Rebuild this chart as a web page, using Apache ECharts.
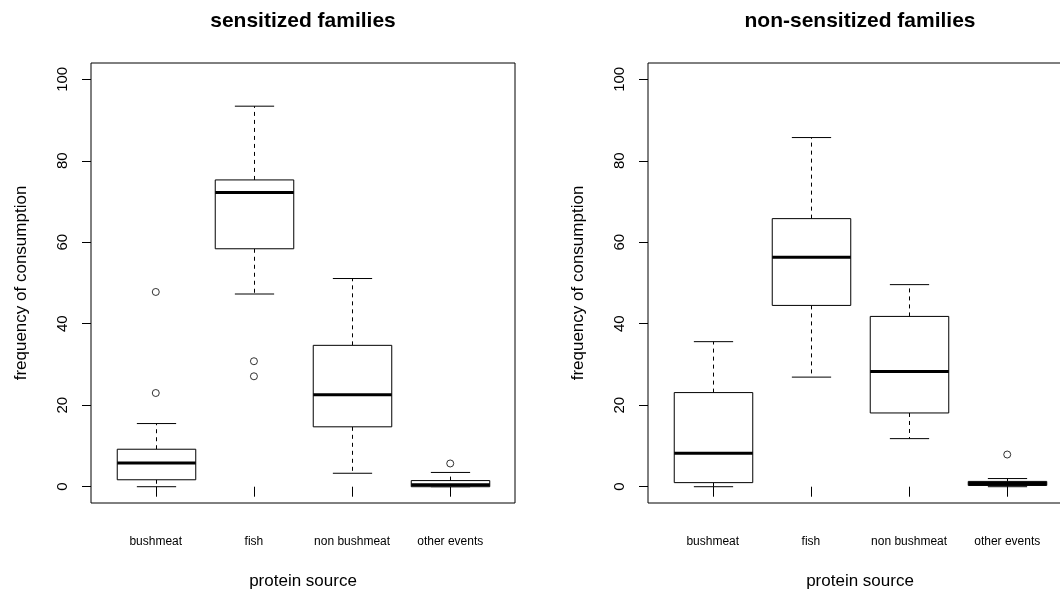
<!DOCTYPE html>
<html><head><meta charset="utf-8">
<script src="https://cdn.jsdelivr.net/npm/echarts@6/dist/echarts.min.js"></script>
<style>html,body{margin:0;padding:0;background:#fff}#c{width:1060px;height:590px}</style>
</head><body><div id="c"></div>
<script>
var categories = ['bushmeat', 'fish', 'non bushmeat', 'other events'];
var yTicks = [0, 20, 40, 60, 80, 100];
var panelTitles = ['sensitized families', 'non-sensitized families'];
// each row: [lower whisker, Q1, median, Q3, upper whisker]
var sensitizedStats = [
  [0, 1.7, 5.8, 9.2, 15.5],
  [47.3, 58.4, 72.2, 75.3, 93.4],
  [3.3, 14.7, 22.6, 34.7, 51.1],
  [0, 0, 0.5, 1.5, 3.5]
];
var sensitizedOutliers = [[47.8, 23.0], [30.8, 27.1], [], [5.7]];
var nonSensitizedStats = [
  [0, 1.0, 8.2, 23.1, 35.6],
  [26.9, 44.5, 56.3, 65.8, 85.7],
  [11.8, 18.1, 28.3, 41.8, 49.6],
  [0, 0.3, 0.8, 1.3, 2.0]
];
var nonSensitizedOutliers = [[], [], [], [7.9]];

var FONT = 'Liberation Sans, Arial, sans-serif';
var panelLefts = [91, 648];
var allStats = [sensitizedStats, nonSensitizedStats];
var allOutliers = [sensitizedOutliers, nonSensitizedOutliers];

function renderBox(params, api) {
  var x = api.value(0);
  var lo = api.coord([x, api.value(1)]);
  var q1 = api.coord([x, api.value(2)]);
  var md = api.coord([x, api.value(3)]);
  var q3 = api.coord([x, api.value(4)]);
  var hi = api.coord([x, api.value(5)]);
  var w = api.size([0.8, 0])[0];
  var h = w / 2, c = w / 4, cx = Math.round(lo[0]) + 0.5;
  var solid = { stroke: '#000', lineWidth: 1, fill: null };
  var dashed = { stroke: '#000', lineWidth: 1, lineDash: [4, 4], fill: null };
  return {
    type: 'group',
    children: [
      { type: 'line', shape: { x1: cx, y1: q3[1], x2: cx, y2: hi[1] }, style: dashed },
      { type: 'line', shape: { x1: cx, y1: q1[1], x2: cx, y2: lo[1] }, style: dashed },
      { type: 'line', shape: { x1: cx - c, y1: hi[1], x2: cx + c, y2: hi[1] }, style: solid },
      { type: 'line', shape: { x1: cx - c, y1: lo[1], x2: cx + c, y2: lo[1] }, style: solid },
      { type: 'rect', shape: { x: cx - h, y: q3[1], width: w, height: q1[1] - q3[1] }, style: { stroke: '#000', lineWidth: 1, fill: '#fff' } },
      { type: 'line', shape: { x1: cx - h, y1: md[1], x2: cx + h, y2: md[1] }, style: { stroke: '#000', lineWidth: 3 } }
    ]
  };
}

var grids = [], xAxes = [], yAxes = [], series = [], graphics = [];
for (var p = 0; p < 2; p++) {
  grids.push({ left: panelLefts[p], top: 63, width: 424, height: 440, show: true, borderColor: '#000', borderWidth: 1, backgroundColor: 'transparent', containLabel: false, outerBoundsMode: 'none' });
  xAxes.push({
    gridIndex: p, type: 'value', min: 0.34, max: 4.66,
    axisLine: { show: false }, splitLine: { show: false },
    axisTick: { show: true, customValues: [1, 2, 3, 4], length: 10, lineStyle: { color: '#000' } },
    axisLabel: { customValues: [1, 2, 3, 4], formatter: function (v) { return categories[Math.round(v) - 1] || ''; }, fontSize: 12, color: '#000', margin: 33, fontFamily: FONT },
    name: 'protein source', nameLocation: 'middle', nameGap: 70,
    nameTextStyle: { fontSize: 17, color: '#000', fontFamily: FONT }
  });
  yAxes.push({
    gridIndex: p, type: 'value', min: -4, max: 104,
    axisLine: { show: false }, splitLine: { show: false },
    axisTick: { show: true, customValues: yTicks, length: 9, lineStyle: { color: '#000' } },
    axisLabel: { customValues: yTicks, rotate: 90, fontSize: 15, color: '#000', margin: 21, fontFamily: FONT },
    name: 'frequency of consumption', nameLocation: 'middle', nameGap: 61, nameRotate: 90,
    nameTextStyle: { fontSize: 17, color: '#000', fontFamily: FONT }
  });
  series.push({
    type: 'custom', xAxisIndex: p, yAxisIndex: p,
    renderItem: renderBox,
    encode: { x: 0, y: [1, 2, 3, 4, 5] },
    data: allStats[p].map(function (s, i) { return [i + 1].concat(s); })
  });
  var outData = [];
  allOutliers[p].forEach(function (arr, i) { arr.forEach(function (v) { outData.push([i + 1, v]); }); });
  series.push({
    type: 'scatter', xAxisIndex: p, yAxisIndex: p, symbol: 'circle', symbolSize: 7,
    itemStyle: { color: '#fff', borderColor: '#000', borderWidth: 1 },
    data: outData, z: 5
  });
  graphics.push({
    type: 'text', x: panelLefts[p] + 212, y: 21,
    style: { text: panelTitles[p], font: 'bold 21px ' + FONT, fill: '#000', align: 'center', verticalAlign: 'middle' }
  });
}

var chart = echarts.init(document.getElementById('c'));
chart.setOption({
  animation: false,
  backgroundColor: '#fff',
  grid: grids, xAxis: xAxes, yAxis: yAxes, series: series, graphic: graphics
});
</script>
</body></html>
